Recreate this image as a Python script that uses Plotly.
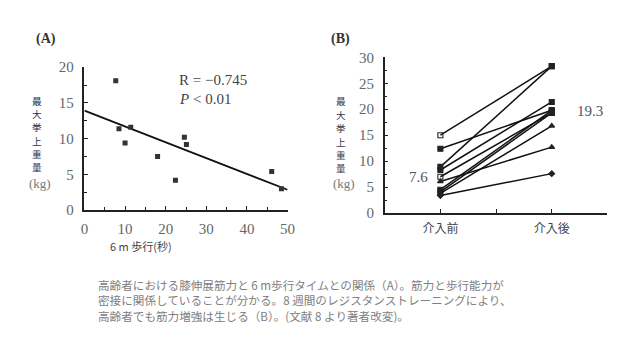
import numpy as np
import plotly.graph_objects as go

W, H = 638, 347

# Panel A: 6 m walking time (s) vs. maximum lifted weight (kg)
walk_time = [7.7, 8.5, 11.4, 10.0, 18.0, 22.4, 24.6, 25.1, 46.1, 48.5]
max_weight = [18.1, 11.4, 11.6, 9.4, 7.5, 4.2, 10.2, 9.2, 5.4, 3.0]
r_text = "R = \u22120.745"
p_text = "<i>P</i> < 0.01"

# Panel B: before / after 8 weeks of resistance training (kg)
phases = ["介入前", "介入後"]
pre_weight = [15.0, 12.4, 8.9, 8.3, 7.0, 6.1, 4.5, 4.1, 3.8, 3.4]
post_weight = [28.3, 19.8, 28.3, 21.4, 19.3, 12.7, 19.8, 19.3, 16.8, 7.6]
subject_symbol = ["square-open", "square", "square", "square", "square-open",
                  "triangle-up", "square", "square", "triangle-up", "diamond"]
pre_mean_label = "7.6"
post_mean_label = "19.3"

ylabel_chars = ["最", "大", "挙", "上", "重", "量"]
caption_lines = [
    "高齢者における膝伸展筋力と 6 m歩行タイムとの関係（A）。筋力と歩行能力が",
    "密接に関係していることが分かる。8 週間のレジスタンストレーニングにより、",
    "高齢者でも筋力増強は生じる（B）。(文献 8 より著者改変)。",
]


def fx(p):
    return p / W


def fy(p):
    return 1 - p / H


serif = "Liberation Serif, Times New Roman, serif"
sans = "Noto Sans CJK JP, Noto Sans, sans-serif"

fig = go.Figure()

# scatter + least squares line
slope, intercept = np.polyfit(walk_time, max_weight, 1)
fit_x = np.array([0, 50])
fig.add_trace(go.Scatter(x=fit_x, y=intercept + slope * fit_x, mode="lines",
                         line=dict(color="#111111", width=1.8),
                         xaxis="x", yaxis="y", showlegend=False))
fig.add_trace(go.Scatter(x=walk_time, y=max_weight, mode="markers",
                         marker=dict(symbol="square", size=5, color="#333333"),
                         xaxis="x", yaxis="y", showlegend=False))

# paired lines, one per subject
phase_pos = [1, 3]
for pre, post, sym in zip(pre_weight, post_weight, subject_symbol):
    fig.add_trace(go.Scatter(
        x=phase_pos, y=[pre, post], mode="lines+markers",
        line=dict(color="#111111", width=1.5),
        marker=dict(symbol=sym, size=5 if sym != "diamond" else 4.5, color="#222222",
                    line=dict(color="#222222", width=1.1)),
        xaxis="x2", yaxis="y2", showlegend=False))

axis_common = dict(showline=True, linecolor="#222222", linewidth=1.5,
                   showgrid=False, zeroline=False, ticks="inside",
                   tickcolor="#222222", ticklen=4, tickwidth=1)

fig.update_layout(
    width=W, height=H, margin=dict(l=0, r=0, t=0, b=0),
    paper_bgcolor="white", plot_bgcolor="white",
    xaxis=dict(domain=[fx(82), fx(289)], range=[0, 50], dtick=10, anchor="y",
               tickfont=dict(family=serif, size=15, color="#666666"),
               ticklabelstandoff=4,
               minor=dict(dtick=5, ticks="inside", ticklen=3, tickcolor="#222222"),
               **axis_common),
    yaxis=dict(domain=[fy(212), fy(62)], range=[0, 20], dtick=5, anchor="x",
               tickfont=dict(family=serif, size=15, color="#666666"),
               ticklabelstandoff=6,
               minor=dict(dtick=2.5, ticks="inside", ticklen=3, tickcolor="#222222"),
               **axis_common),
    xaxis2=dict(domain=[fx(388), fx(615)], range=[0, 4], anchor="y2",
                tickvals=[1, 2, 3, 4], ticktext=[phases[0], "", phases[1], ""],
                tickfont=dict(family=sans, size=12, color="#444444"),
                ticklabelstandoff=4,
                **axis_common),
    yaxis2=dict(domain=[fy(215), fy(51.7)], range=[0, 30], dtick=5, anchor="x2",
                tickfont=dict(family=serif, size=15, color="#666666"),
                ticklabelstandoff=6,
                minor=dict(dtick=2.5, ticks="inside", ticklen=3, tickcolor="#222222"),
                **axis_common),
)

ann = []


def text(x, y, s, size, family, color, xanchor="left", yanchor="middle"):
    ann.append(dict(x=fx(x), y=fy(y), xref="paper", yref="paper", text=s,
                    showarrow=False, xanchor=xanchor, yanchor=yanchor,
                    borderpad=0,
                    font=dict(family=family, size=size, color=color)))


# panel letters
text(32, 32, "<b>(A)</b>", 14, serif, "#333333")
text(332, 33, "<b>(B)</b>", 14, serif, "#333333")

# stacked vertical y titles, one character per annotation
for i, ch in enumerate(ylabel_chars):
    text(34, 97 + i * 14, ch, 9.6, sans, "#23335e", xanchor="center")
    text(343, 98 + i * 14, ch, 9.6, sans, "#3a3a48", xanchor="center")
text(37, 184, "(kg)", 13, serif, "#777777", xanchor="center")
text(347, 184, "(kg)", 13, serif, "#777777", xanchor="center")

# panel A notes
text(177, 76, r_text, 15, serif, "#444444")
text(177, 95, p_text, 15, serif, "#444444")
text(140, 250, "6 m 歩行(秒)", 11, sans, "#444444", xanchor="center")

# panel B mean labels
text(422, 177, pre_mean_label, 15, serif, "#555555", xanchor="center")
text(597, 108, post_mean_label, 15, serif, "#555555", xanchor="center")

# caption
for i, line in enumerate(caption_lines):
    text(95, 290 + i * 16.6, line, 11.6, sans, "#808080")

fig.update_layout(annotations=ann)
fig.write_html("out.html")
